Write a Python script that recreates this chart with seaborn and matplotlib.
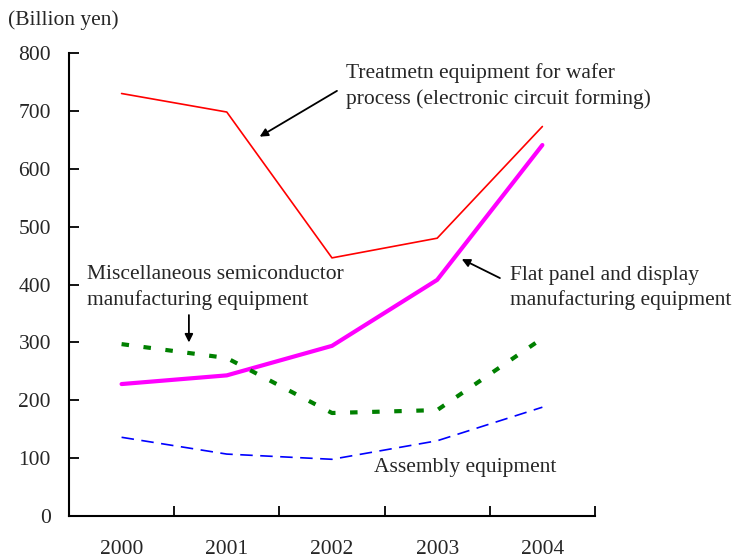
import pandas as pd
import matplotlib
matplotlib.use("Agg")
import matplotlib.pyplot as plt
import seaborn as sns

# -------------------------------
# Data (billion yen)
# -------------------------------
years = [2000, 2001, 2002, 2003, 2004]
wafer_process = [730, 698, 446, 480, 673]
flat_panel = [228, 243, 294, 408, 641]
misc_semicon = [297, 273, 178, 183, 307]
assembly = [136, 107, 98, 130, 188]

data = pd.DataFrame({
    "year": years,
    "wafer": wafer_process,
    "flat": flat_panel,
    "misc": misc_semicon,
    "assembly": assembly,
})

# -------------------------------
# Style
# -------------------------------
sns.set_style("ticks")
plt.rcParams["font.family"] = ["Liberation Serif", "DejaVu Serif"]
fs = 15.5

fig = plt.figure(figsize=(7.33, 5.59), dpi=100)
ax = fig.add_axes([0.0941, 0.0769, 0.7176, 0.8283])

# -------------------------------
# Lines
# -------------------------------
sns.lineplot(x="year", y="wafer", data=data, ax=ax, color="#ff0000", linewidth=1.2)
sns.lineplot(x="year", y="flat", data=data, ax=ax, color="#ff00ff", linewidth=3.0)
sns.lineplot(x="year", y="misc", data=data, ax=ax, color="#008000", linewidth=3.0,
             linestyle=(0, (1.8, 3.5)))
sns.lineplot(x="year", y="assembly", data=data, ax=ax, color="#0000ff", linewidth=1.2,
             linestyle=(0, (7.5, 4.5)))

# -------------------------------
# Axes
# -------------------------------
ax.set_xlim(1999.5, 2004.5)
ax.set_ylim(0, 800)
ax.set_xticks([y + 0.5 for y in [1999] + years])
ax.set_xticklabels([])
ax.set_xticks(years, minor=True)
ax.set_xticklabels([str(y) for y in years], minor=True, fontsize=fs)
ax.tick_params(axis="x", which="major", direction="in", length=7, width=1.3, color="black")
ax.tick_params(axis="x", which="minor", length=0, pad=17)
ax.set_yticks(range(0, 801, 100))
ax.set_yticklabels([str(v) for v in range(0, 801, 100)], fontsize=fs)
ax.tick_params(axis="y", direction="in", length=7, width=1.3, color="black", pad=13)
ax.set_xlabel("")
ax.set_ylabel("")
sns.despine(ax=ax)
ax.spines["left"].set_linewidth(1.5)
ax.spines["bottom"].set_linewidth(1.5)
ax.spines["left"].set_color("black")
ax.spines["bottom"].set_color("black")

# -------------------------------
# Labels and arrows
# -------------------------------
fig.text(0.011, 0.964, "(Billion yen)", fontsize=fs, va="center", ha="left")

arrow = dict(arrowstyle="-|>", color="black", lw=1.3, mutation_scale=12)

ax.text(2002.13, 743, "Treatmetn equipment for wafer\nprocess (electronic circuit forming)",
        fontsize=fs, va="center", ha="left", linespacing=1.4)
ax.annotate("", xy=(2001.29, 653), xytext=(2002.07, 737), arrowprops=arrow)

ax.text(2003.69, 394, "Flat panel and display\nmanufacturing equipment",
        fontsize=fs, va="center", ha="left", linespacing=1.4)
ax.annotate("", xy=(2003.21, 446), xytext=(2003.62, 409), arrowprops=arrow)

ax.text(1999.67, 395, "Miscellaneous semiconductor\nmanufacturing equipment",
        fontsize=fs, va="center", ha="left", linespacing=1.4)
ax.annotate("", xy=(2000.64, 295), xytext=(2000.64, 352), arrowprops=arrow)

ax.text(2002.40, 83, "Assembly equipment", fontsize=fs, va="center", ha="left")

plt.savefig("out.png", dpi=100)
